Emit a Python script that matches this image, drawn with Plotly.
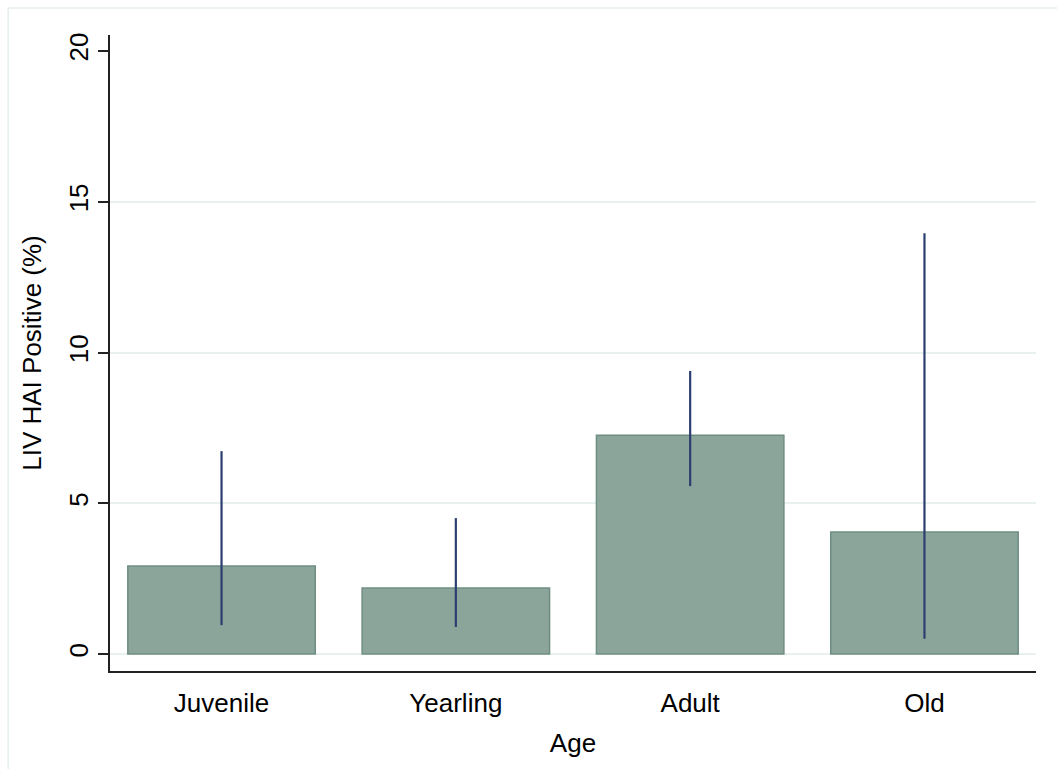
import plotly.graph_objects as go

# Seroprevalence by age class, with confidence intervals
age_classes = ["Juvenile", "Yearling", "Adult", "Old"]
pct_positive = [2.92, 2.19, 7.26, 4.05]
ci_lower = [0.96, 0.90, 5.57, 0.51]
ci_upper = [6.73, 4.51, 9.39, 13.96]
y_ticks = [0, 5, 10, 15, 20]
grid_ticks = [0, 5, 10, 15]

err_plus = [u - p for u, p in zip(ci_upper, pct_positive)]
err_minus = [p - l for p, l in zip(pct_positive, ci_lower)]

FONT = "Liberation Sans, Arial, Helvetica, sans-serif"
x_pos = list(range(len(age_classes)))

fig = go.Figure()
fig.add_trace(go.Bar(
    x=x_pos,
    y=pct_positive,
    width=0.8,
    marker=dict(color="#8ca59b", line=dict(color="#6f8e82", width=1.5)),
    error_y=dict(
        type="data",
        symmetric=False,
        array=err_plus,
        arrayminus=err_minus,
        color="#2b3e6f",
        thickness=2.2,
        width=0,
    ),
    showlegend=False,
    yaxis="y",
))

y_range = [-0.56, 20.53]

fig.update_layout(
    width=1057,
    height=769,
    margin=dict(l=110, r=21, t=35, b=98),
    paper_bgcolor="white",
    plot_bgcolor="rgba(0,0,0,0)",
    font=dict(family=FONT, size=26, color="black"),
    xaxis=dict(
        range=[-0.476, 3.476],
        tickvals=x_pos,
        ticktext=age_classes,
        showgrid=False,
        zeroline=False,
        showline=True,
        linecolor="#222222",
        linewidth=2,
        ticks="",
        ticklabelstandoff=8,
        tickfont=dict(size=26),
        title=dict(text="Age", font=dict(size=26), standoff=17),
    ),
    yaxis=dict(
        range=y_range,
        tickvals=y_ticks,
        ticktext=[str(v) for v in y_ticks],
        tickangle=-90,
        showgrid=False,
        zeroline=False,
        showline=True,
        linecolor="#222222",
        linewidth=2,
        ticks="outside",
        ticklen=10,
        tickwidth=1.5,
        tickcolor="#222222",
        tickfont=dict(size=26),
        title=dict(text="LIV HAI Positive (%)", font=dict(size=26), standoff=14),
    ),
    yaxis2=dict(
        range=y_range,
        overlaying="y",
        tickvals=grid_ticks,
        showticklabels=False,
        showgrid=True,
        gridcolor="#e8f0f0",
        gridwidth=2,
        zeroline=False,
        showline=False,
        layer="below traces",
    ),
    shapes=[
        dict(
            type="rect", xref="paper", yref="paper",
            x0=-0.110, x1=1.06, y0=-0.25, y1=1.0425,
            line=dict(color="#e6eeee", width=1.5),
            fillcolor="rgba(0,0,0,0)",
            layer="below",
        )
    ],
)

# dummy trace so the grid axis is drawn
fig.add_trace(go.Scatter(x=[None], y=[None], yaxis="y2", showlegend=False, hoverinfo="skip"))

fig.write_html("out.html")
